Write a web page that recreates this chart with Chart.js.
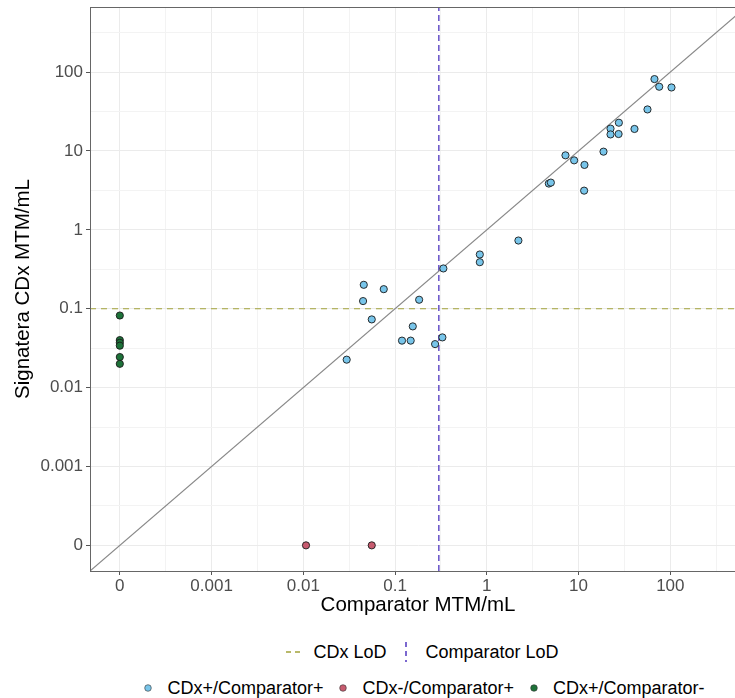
<!DOCTYPE html>
<html>
<head>
<meta charset="utf-8">
<script src="https://cdn.jsdelivr.net/npm/chart.js@4/dist/chart.umd.min.js"></script>
<style>
  html, body { margin: 0; padding: 0; background: #fff; overflow: hidden; }
  #wrap { position: relative; width: 752px; height: 698px; }
  #legend { position: absolute; left: 0; top: 634px; width: 845px;
            font-family: "Liberation Sans", Arial, sans-serif; font-size: 18px; color: #000; }
  .row { display: flex; justify-content: center; align-items: center; height: 36px; }
  .item { display: flex; align-items: center; margin: 0 6px; }
  .key { width: 16px; height: 20px; position: relative; margin-right: 11px; }
</style>
</head>
<body>
<div id="wrap">
  <canvas id="scatter_chart" width="752" height="630"></canvas>
  <div id="legend">
    <div class="row">
      <div class="item"><div class="key"><svg width="16" height="20"><line x1="0" y1="10" x2="16" y2="10" stroke="#a3a33a" stroke-width="1.4" stroke-dasharray="5,4"/></svg></div>CDx LoD</div>
      <div class="item"><div class="key"><svg width="16" height="20"><line x1="8" y1="0" x2="8" y2="20" stroke="#5b43c4" stroke-width="1.6" stroke-dasharray="5,4"/></svg></div>Comparator LoD</div>
    </div>
    <div class="row">
      <div class="item"><div class="key"><svg width="16" height="20"><circle cx="8" cy="10" r="3.3" fill="#78c5ea" stroke="#333" stroke-width="0.6"/></svg></div>CDx+/Comparator+</div>
      <div class="item"><div class="key"><svg width="16" height="20"><circle cx="8" cy="10" r="3.3" fill="#c75b6f" stroke="#333" stroke-width="0.6"/></svg></div>CDx-/Comparator+</div>
      <div class="item"><div class="key"><svg width="16" height="20"><circle cx="8" cy="10" r="3.3" fill="#1d7239" stroke="#333" stroke-width="0.6"/></svg></div>CDx+/Comparator-</div>
    </div>
  </div>
</div>
<script>
// Values in MTM/mL. Zero is shown one decade below 0.001
const pos_pos_x = [0.0297, 0.0448, 0.0456, 0.0557, 0.0753, 0.119, 0.148, 0.156, 0.183, 0.273, 0.328, 0.336, 0.839, 0.839, 2.21, 4.74, 4.99, 7.2, 8.95, 11.5, 11.6, 18.7, 22.3, 22.3, 27.3, 27.5, 40.7, 56.4, 67.2, 75.7, 103];
const pos_pos_y = [0.0226, 0.125, 0.201, 0.0732, 0.177, 0.0394, 0.0394, 0.0597, 0.130, 0.0356, 0.0433, 0.324, 0.487, 0.389, 0.732, 3.86, 3.97, 8.8, 7.6, 3.14, 6.65, 9.8, 19.2, 16.2, 16.4, 22.8, 19.0, 33.6, 81.5, 65.2, 63.8];

const neg_pos_x = [0.0107, 0.0557];
const neg_pos_y = [0, 0];

const pos_neg_x = [0, 0, 0, 0, 0, 0];
const pos_neg_y = [0.082, 0.040, 0.037, 0.034, 0.0244, 0.020];

// limits of detection
const cdx_lod = 0.1;
const comparator_lod = 0.3;

// axis breaks and their labels
const tick_values = [0, 0.001, 0.01, 0.1, 1, 10, 100];
const tick_labels = ["0", "0.001", "0.01", "0.1", "1", "10", "100"];

// axis limits (log10 units) before ggplot-style 5% expansion
const axis_lo = -4, axis_hi = 2.5;

const zero_at = 0.0001;
function tr(v) { return Math.log10(v === 0 ? zero_at : v); }
function pts(xs, ys) { return xs.map((x, i) => ({x: tr(x), y: tr(ys[i])})); }

const pad = (axis_hi - axis_lo) * 0.05;
const lim_min = axis_lo - pad, lim_max = axis_hi + pad;

const font_family = '"Liberation Sans", Arial, sans-serif';

function label_for(v) {
  const i = tick_values.findIndex(t => Math.abs(tr(t) - v) < 1e-6);
  return i >= 0 ? tick_labels[i] : "";
}
function is_major(v) { return Math.abs(v - Math.round(v)) < 1e-6; }

function half_decade_ticks(scale) {
  const t = [];
  for (let v = axis_lo; v <= axis_hi + 1e-9; v += 0.5) t.push({value: v});
  scale.ticks = t;
}

const base_point = {
  type: "scatter",
  pointRadius: 3.6,
  pointHoverRadius: 3.6,
  pointBorderWidth: 0.9,
  pointBorderColor: "#1a1a1a",
  order: 0
};

const base_line = {
  type: "line",
  pointRadius: 0,
  fill: false,
  tension: 0,
  order: 1
};

// draws the full panel frame (theme_bw border)
const panel_border = {
  id: "panel_border",
  afterDraw(chart) {
    const a = chart.chartArea, ctx = chart.ctx;
    ctx.save();
    ctx.strokeStyle = "#666";
    ctx.lineWidth = 1;
    ctx.strokeRect(Math.round(a.left) + 0.5, Math.round(a.top) + 0.5, Math.round(a.right - a.left), Math.round(a.bottom - a.top));
    ctx.restore();
  }
};

new Chart(document.getElementById("scatter_chart").getContext("2d"), {
  data: {
    datasets: [
      {...base_point, label: "CDx+/Comparator+", data: pts(pos_pos_x, pos_pos_y), backgroundColor: "#78c5ea"},
      {...base_point, label: "CDx-/Comparator+", data: pts(neg_pos_x, neg_pos_y), backgroundColor: "#c75b6f"},
      {...base_point, label: "CDx+/Comparator-", data: pts(pos_neg_x, pos_neg_y), backgroundColor: "#1d7239"},
      {...base_line, label: "identity", data: [{x: lim_min, y: lim_min}, {x: lim_max, y: lim_max}], borderColor: "#888888", borderWidth: 1.2},
      {...base_line, label: "CDx LoD", data: [{x: lim_min, y: tr(cdx_lod)}, {x: lim_max, y: tr(cdx_lod)}], borderColor: "#a3a33a", borderWidth: 1.1, borderDash: [6, 5]},
      {...base_line, label: "Comparator LoD", data: [{x: tr(comparator_lod), y: lim_min}, {x: tr(comparator_lod), y: lim_max}], borderColor: "#5b43c4", borderWidth: 1.4, borderDash: [6, 4]}
    ]
  },
  options: {
    responsive: false,
    animation: false,
    layout: { padding: { top: 7, right: 6, left: 0, bottom: 0 } },
    plugins: { legend: { display: false }, tooltip: { enabled: false } },
    scales: {
      x: {
        type: "linear",
        min: lim_min,
        max: lim_max,
        afterBuildTicks: half_decade_ticks,
        afterFit(scale) { scale.height = 59; scale.paddingLeft = 0; scale.paddingRight = 0; },
        grid: {
          color: ctx => is_major(ctx.tick.value) ? "#ebebeb" : "#f3f3f3",
          tickColor: ctx => is_major(ctx.tick.value) ? "#555" : "rgba(0,0,0,0)",
          tickLength: 4
        },
        border: { display: true, color: "#666" },
        ticks: {
          autoSkip: false,
          maxRotation: 0,
          padding: 1,
          color: "#4d4d4d",
          font: { family: font_family, size: 17 },
          callback: v => label_for(v)
        },
        title: {
          display: true,
          text: "Comparator MTM/mL",
          color: "#000",
          font: { family: font_family, size: 20.5 },
          padding: { top: 0, bottom: 12 }
        }
      },
      y: {
        type: "linear",
        min: lim_min,
        max: lim_max,
        afterBuildTicks: half_decade_ticks,
        afterFit(scale) { scale.width = 90; scale.paddingTop = 0; scale.paddingBottom = 0; },
        grid: {
          color: ctx => is_major(ctx.tick.value) ? "#ebebeb" : "#f3f3f3",
          tickColor: ctx => is_major(ctx.tick.value) ? "#555" : "rgba(0,0,0,0)",
          tickLength: 4
        },
        border: { display: true, color: "#666" },
        ticks: {
          autoSkip: false,
          padding: 3,
          color: "#4d4d4d",
          font: { family: font_family, size: 17 },
          callback: v => label_for(v)
        },
        title: {
          display: true,
          text: "Signatera CDx MTM/mL",
          color: "#000",
          font: { family: font_family, size: 20.5 },
          padding: { top: 11, bottom: 0 }
        }
      }
    }
  },
  plugins: [panel_border]
});
</script>
</body>
</html>
